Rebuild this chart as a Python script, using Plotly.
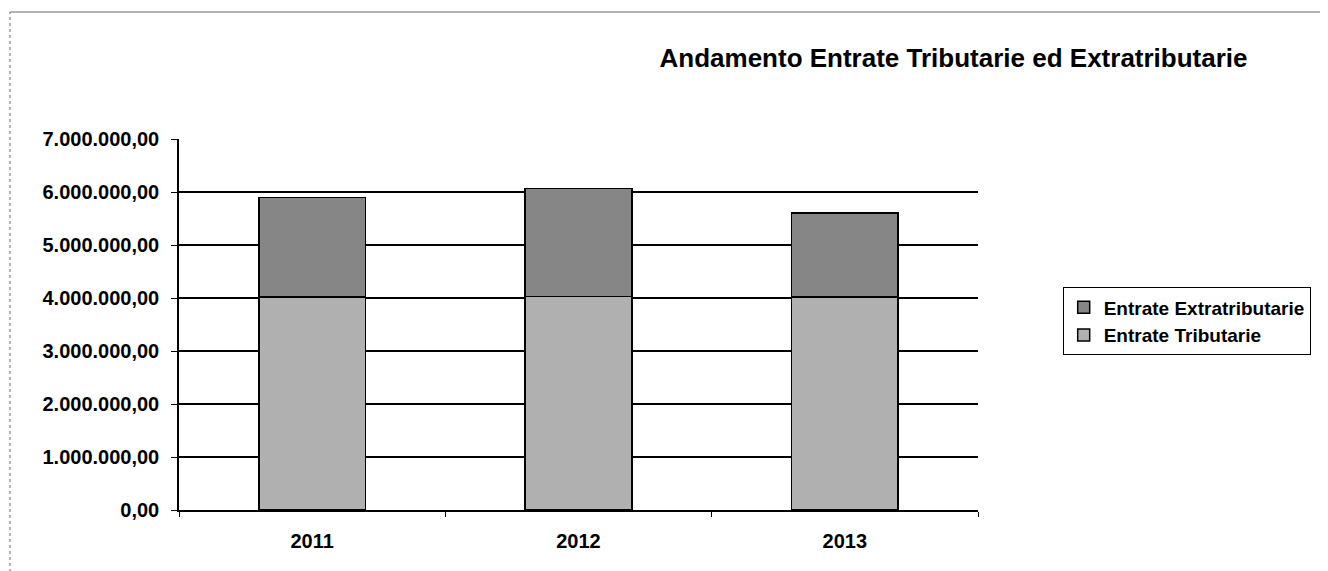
import plotly.graph_objects as go

# values
anni = ["2011", "2012", "2013"]
tributarie = [4020000, 4030000, 4020000]
extratributarie = [1880000, 2040000, 1580000]

fig = go.Figure()
fig.add_trace(go.Bar(x=anni, y=tributarie, name="Entrate Tributarie",
                     marker=dict(color="#b0b0b0", line=dict(color="black", width=1.5))))
fig.add_trace(go.Bar(x=anni, y=extratributarie, name="Entrate Extratributarie",
                     marker=dict(color="#868686", line=dict(color="black", width=1.5))))

# page has an 8px body margin, so margins are shifted by 8
fig.update_layout(
    barmode="stack",
    bargap=0.6,
    width=1328, height=571,
    margin=dict(l=171, r=358, t=131, b=69),
    paper_bgcolor="white", plot_bgcolor="white",
    separators=",.",
    font=dict(family="Liberation Sans, Arial", color="black", size=16),
    title=dict(text="Andamento Entrate Tributarie ed Extratributarie",
               x=0.712, xanchor="center", y=1 - 50 / 571, yanchor="middle",
               font=dict(size=26, weight="bold")),
    legend=dict(x=1.106, xanchor="left", y=0.6, yanchor="top",
                traceorder="reversed", bordercolor="black", borderwidth=1,
                bgcolor="white", font=dict(size=19, weight="bold"),
                itemwidth=30, tracegroupgap=0),
    showlegend=True,
)

fig.update_yaxes(range=[0, 7000000], dtick=1000000, tickformat=",.2f",
                 showgrid=True, gridcolor="black", gridwidth=1.5,
                 showline=True, linecolor="black", linewidth=1.5,
                 ticks="outside", ticklen=6, tickcolor="black",
                 tickfont=dict(size=20, weight="bold"), zeroline=False,
                 ticklabelstandoff=8)
fig.update_xaxes(showline=True, linecolor="black", linewidth=1.5,
                 ticks="outside", ticklen=5, tickcolor="black", tickson="boundaries",
                 tickfont=dict(size=20, weight="bold"), ticklabelstandoff=12)

# scan page border lines
fig.add_shape(type="line", xref="paper", yref="paper", x0=(10 - 179) / 799, x1=(10 - 179) / 799,
              y0=-80 / 371, y1=(510 - 12) / 371, line=dict(color="#666", width=1, dash="dot"))
fig.add_shape(type="line", xref="paper", yref="paper", x0=(10 - 179) / 799, x1=(1340 - 179) / 799,
              y0=(510 - 12) / 371, y1=(510 - 12) / 371, line=dict(color="#666", width=1))

fig.write_html("out.html")
